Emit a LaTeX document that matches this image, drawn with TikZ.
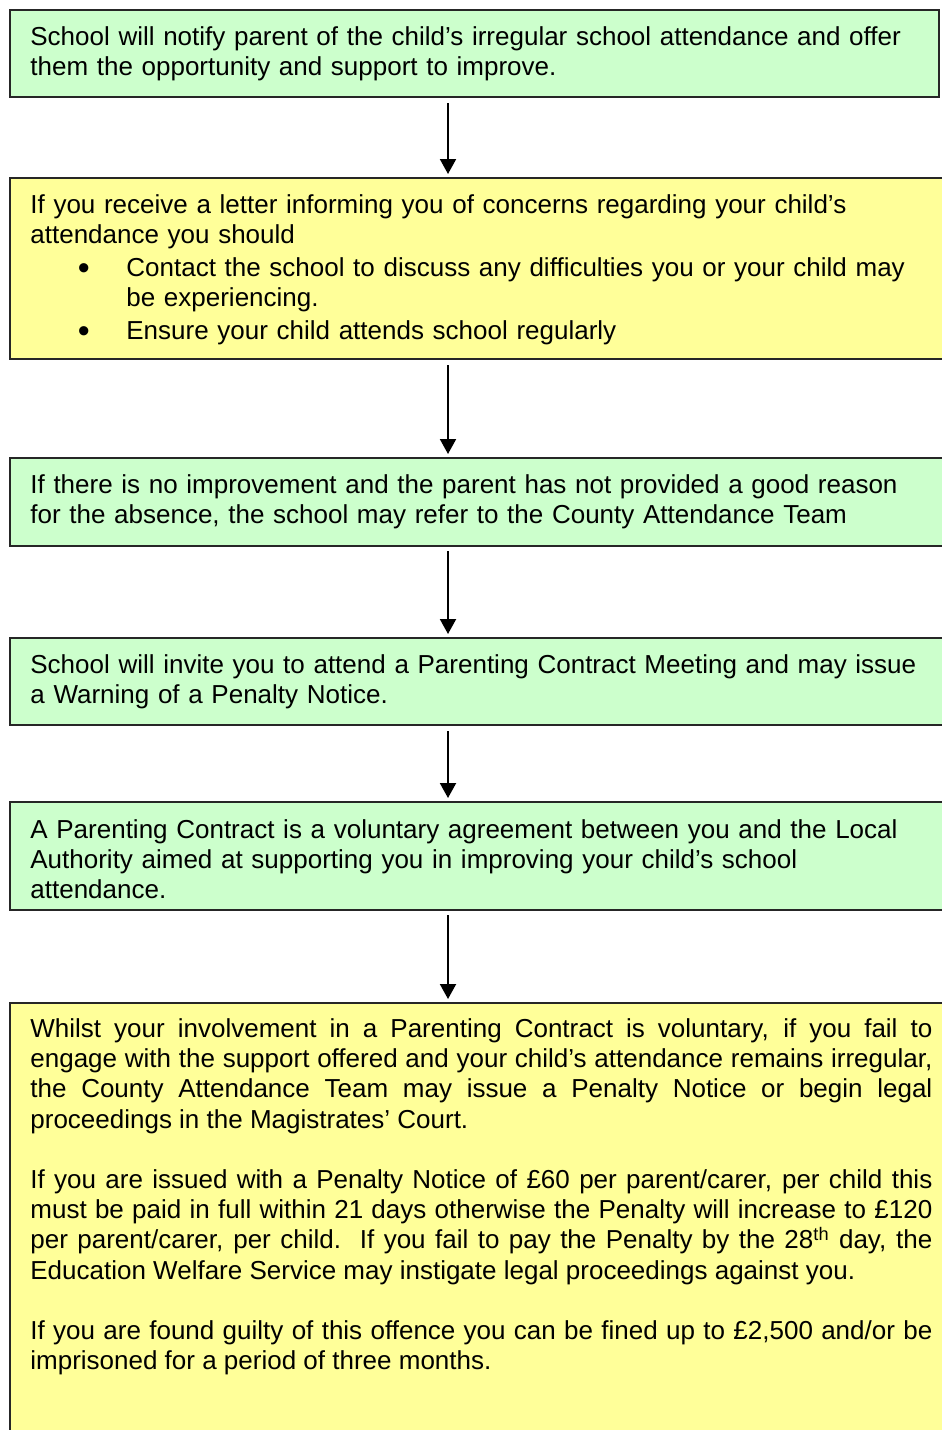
\documentclass[tikz,border=0pt]{standalone}
\usepackage{fontspec}
\setmainfont{Liberation Sans}
\usetikzlibrary{arrows.meta}
\definecolor{grn}{HTML}{CCFFCC}
\definecolor{ylw}{HTML}{FFFF99}
\newcommand{\mybul}{\makebox[48pt][l]{\hspace*{23.8pt}\raisebox{-1.3pt}{\fontsize{17pt}{15pt}\selectfont •}}}
\begin{document}
\begin{tikzpicture}[x=0.5pt,y=-0.5pt,
 box/.style={draw=black!85, line width=1pt, anchor=north west, inner sep=0pt},
 txt/.style={anchor=north west, inner sep=0pt, text width=470pt, align=left, font=\fontsize{13pt}{15pt}\selectfont},
 jtxt/.style={anchor=north west, inner sep=0pt, text width=451pt, align=justify, font=\fontsize{13pt}{15.1pt}\selectfont},
 arr/.style={line width=1pt, -{Triangle[width=8pt,length=7.5pt]}, shorten >=1.5pt}]
\useasboundingbox (0,0) rectangle (942,1430);
\clip (0,0) rectangle (942,1430);
% boxes
\node[box, fill=grn, minimum width=464.5pt, minimum height=43.5pt] (b1) at (9,9) {};
\node[box, fill=ylw, minimum width=475.5pt, minimum height=90.5pt] (b2) at (9,177) {};
\node[box, fill=grn, minimum width=475.5pt, minimum height=44pt] (b3) at (9,457) {};
\node[box, fill=grn, minimum width=475.5pt, minimum height=43.5pt] (b4) at (9,637) {};
\node[box, fill=grn, minimum width=475.5pt, minimum height=54pt] (b5) at (9,801) {};
\node[box, fill=ylw, minimum width=475.5pt, minimum height=224pt] (b6) at (9,1002) {};
% texts
\node[txt] (t1) at (30,24) {\strut School will notify parent of the child’s irregular school attendance and offer\\
them the opportunity and support to improve.};
\node[txt] (t2) at (30,192) {\strut If you receive a letter informing you of concerns regarding your child’s\\
attendance you should\\[1.5pt]
\mybul Contact the school to discuss any difficulties you or your child may\\
\hspace*{48pt}be experiencing.\\[1.5pt]
\mybul Ensure your child attends school regularly};
\node[txt] (t3) at (30,472) {\strut If there is no improvement and the parent has not provided a good reason\\
for the absence, the school may refer to the County Attendance Team};
\node[txt] (t4) at (30,652) {\strut School will invite you to attend a Parenting Contract Meeting and may issue\\
a Warning of a Penalty Notice.};
\node[txt] (t5) at (30,817) {\strut A Parenting Contract is a voluntary agreement between you and the Local\\
Authority aimed at supporting you in improving your child’s school\\
attendance.};
\node[jtxt] (t6) at (30,1016) {\parindent=0pt\strut Whilst your involvement in a Parenting Contract is voluntary, if you fail to\linebreak
engage with the support offered and your child’s attendance remains irregular,\linebreak
the County Attendance Team may issue a Penalty Notice or begin legal\linebreak
proceedings in the Magistrates’ Court.\par\vspace{15.1pt}
If you are issued with a Penalty Notice of £60 per parent/carer, per child this\linebreak
must be paid in full within 21 days otherwise the Penalty will increase to £120\linebreak
per parent/carer, per child.\ \ If you fail to pay the Penalty by the 28\textsuperscript{th} day, the\linebreak
Education Welfare Service may instigate legal proceedings against you.\par\vspace{15.1pt}
If you are found guilty of this offence you can be fined up to £2,500 and/or be\linebreak
imprisoned for a period of three months.};
% arrows
\coordinate (a1) at (448,103);
\coordinate (a2) at (448,365);
\coordinate (a3) at (448,551);
\coordinate (a4) at (448,731);
\coordinate (a5) at (448,915);
\draw[arr] (a1) -- (a1 |- b2.north);
\draw[arr] (a2) -- (a2 |- b3.north);
\draw[arr] (a3) -- (a3 |- b4.north);
\draw[arr] (a4) -- (a4 |- b5.north);
\draw[arr] (a5) -- (a5 |- b6.north);
\end{tikzpicture}
\end{document}
